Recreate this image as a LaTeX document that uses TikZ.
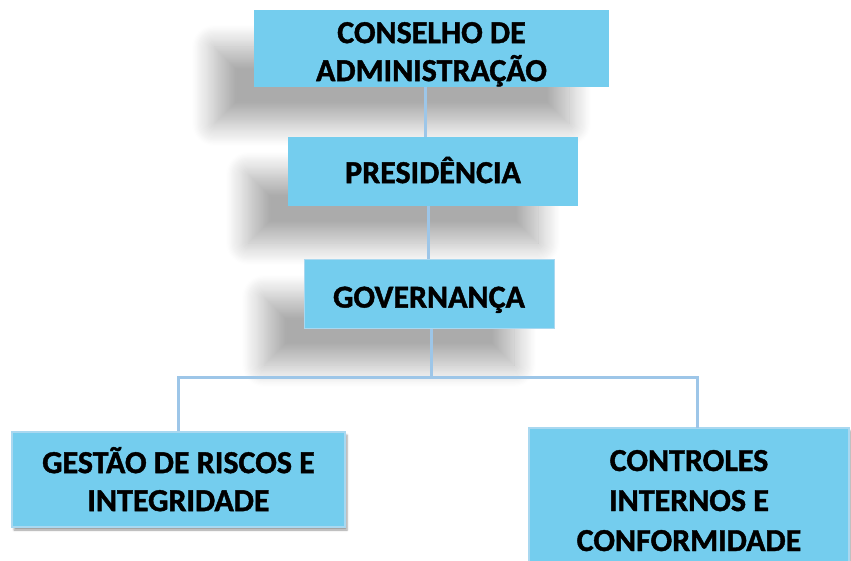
\documentclass[tikz,border=0pt]{standalone}
\usepackage{fontspec}
\setmainfont{Carlito}[BoldFeatures={FakeBold=1.3}]
\usetikzlibrary{shadows.blur}
\definecolor{boxfill}{HTML}{74CDEE}
\definecolor{boxline}{HTML}{A9D8F0}
\definecolor{connc}{HTML}{9DC6E8}
\newcommand{\boxlines}[3][38]{\fontsize{32}{#1}\selectfont\bfseries\raisebox{#2}[\height][\depth]{\begin{tabular}{@{}c@{}}#3\end{tabular}}}
\tikzset{
  orgbox/.style={fill=boxfill, inner sep=0pt},
  bigshadow/.style={blur shadow={shadow xshift=-40pt, shadow yshift=-37pt,
    shadow blur radius=22pt, shadow blur steps=20, shadow opacity=33}},
  smallshadow/.style={blur shadow={shadow xshift=2pt, shadow yshift=-3pt,
    shadow blur radius=2pt, shadow opacity=40}},
  conn/.style={draw=connc, line width=3pt},
}
\begin{document}
\begin{tikzpicture}[x=1pt,y=-1pt]
\useasboundingbox (0,0) rectangle (851,561);
\node[orgbox, bigshadow, minimum width=355pt, minimum height=77pt] (cons) at (431.5,48.5) {\boxlines{-6pt}{CONSELHO DE\\ADMINISTRAÇÃO}};
\node[orgbox, bigshadow, minimum width=290pt, minimum height=69pt] (pres) at (433,171.5) {\boxlines{-4pt}{PRESIDÊNCIA}};
\node[orgbox, bigshadow, draw=boxline, line width=1pt, minimum width=250pt, minimum height=68pt] (gov) at (429,294) {\boxlines{-6pt}{GOVERNANÇA}};
\node[orgbox, smallshadow, draw=boxline, line width=1.5pt, minimum width=333pt, minimum height=95pt] (ges) at (178.5,479.5) {\boxlines{-5pt}{GESTÃO DE RISCOS E\\INTEGRIDADE}};
\node[orgbox, smallshadow, draw=boxline, line width=1.5pt, minimum width=320pt, minimum height=134pt] (ctl) at (689,495) {\boxlines[40]{-8pt}{CONTROLES\\INTERNOS E\\CONFORMIDADE}};
\coordinate (j) at (431,377);
\draw[conn] ([xshift=-6.5pt]cons.south) -- ([xshift=-8pt]pres.north);
\draw[conn] ([xshift=-5pt]pres.south) -- ([xshift=-1pt]gov.north);
\draw[conn] ([xshift=2pt]gov.south) -- (j);
\draw[conn] (j) -- (j -| ges.north) -- (ges.north);
\draw[conn] (j) -- (j -| 697,0) -- (697,428);
\end{tikzpicture}
\end{document}
